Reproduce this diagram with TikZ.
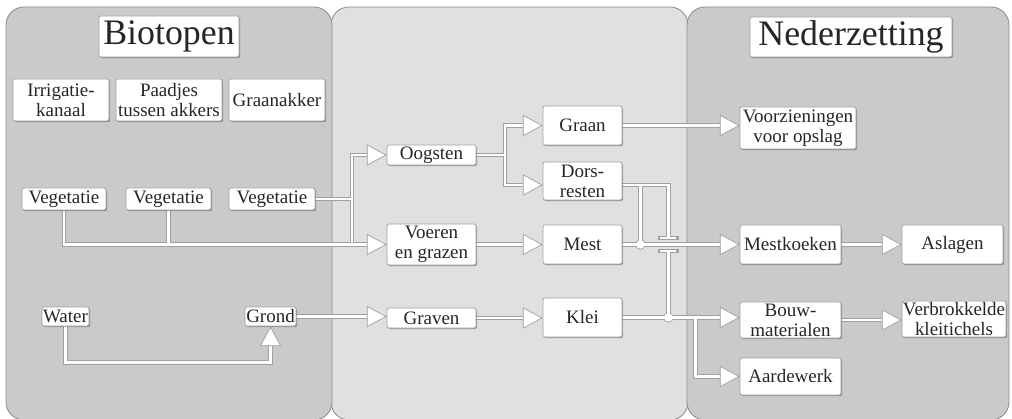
\documentclass[tikz,border=0pt]{standalone}
\usepackage{fontspec}
\setmainfont{Liberation Serif}
\usetikzlibrary{arrows.meta,shadows}
\pgfdeclarelayer{bg}
\pgfdeclarelayer{conn}
\pgfsetlayers{bg,conn,main}
\definecolor{panelA}{HTML}{C9CACC}
\definecolor{panelB}{HTML}{DFE0E1}
\definecolor{pline}{HTML}{8C8C8C}
\definecolor{cline}{HTML}{A0A0A0}
\definecolor{txt}{HTML}{262626}
\newcommand\BX[7][box]{\node[#1, minimum width={(#5-#3)*0.025cm}, minimum height={(#6-#4)*0.025cm}] (#2) at ({(#3+#5)/2},{(#4+#6)/2}) {#7};}
\newcommand\connectors{%
 \draw[cn] (vegC.east) -- (jv);
 \draw[cn,arr] (jv) |- (oog.west);
 \draw[cn] (jv) -- (jv |- voer.west);
 \draw[cn,arr] (vegA.south) |- (voer.west);
 \draw[cn] (vegB.south) -- (vegB.south |- voer.west);
 \draw[cn,arr] (water.south) -- ++(0,36) -| (grond.south);
 \draw[cn,arr] (grond.east) -- (grond.east -| graven.west);
 \draw[cn,arr] (graven.east) -- (graven.east -| klei.west);
 \draw[cn] (oog.east) -- (jo);
 \draw[cn,arr] (jo) |- (graan.west);
 \draw[cn,arr] (jo) |- (dorsin);
 \draw[cn,arr] (voer.east) -- (mest.west);
 \draw[cn,arr] (graan.east) -- (graan.east -| vz.west);
 \draw[cn] (dorsout) -- (dB) -- (tc1);
 \draw[cn] (dA) -- (dM);
 \draw[cn] ([xshift=-0.2cm]tc1) -- ([xshift=0.2cm]tc1);
 \draw[cn] ([xshift=-0.2cm]tc2) -- ([xshift=0.2cm]tc2);
 \draw[cn] (tc2) -- (dK);
 \draw[cn,arr] (mest.east) -- (mk.west);
 \draw[cn,arr] (klei.east) -- (klei.east -| bouw.west);
 \draw[cn,arr] (jk) |- (aard.west);
 \draw[cn,arr] (mk.east) -- (asl.west);
 \draw[cn,arr] (bouw.east) -- (bouw.east -| vk.west);
 \fill[dotc] (dM) circle;
 \fill[dotc] (dK) circle;
}
\begin{document}
\begin{tikzpicture}[x=0.025cm,y=-0.025cm,
  font=\fontsize{13.5}{14.2}\selectfont,
  box/.style={draw=cline, line width=0.5pt, fill=white, rounded corners=1.5pt,
    inner sep=0pt, align=center, text=txt,
    drop shadow={shadow xshift=0.8pt, shadow yshift=-0.8pt, fill=black, opacity=0.3}},
  title/.style={box, font=\fontsize{25.5}{28}\selectfont},
  panel/.style={draw=pline, line width=0.6pt, rounded corners=0.45cm}]
\useasboundingbox (0,0) rectangle (1012,419);
\begin{pgfonlayer}{bg}
\begin{scope}
\clip (0,0) rectangle (1012,419);
\path[panel, fill=panelB] (331,7) rectangle (688,420);
\path[panel, fill=panelA] (6,7) rectangle (332,420);
\path[panel, fill=panelA] (687,7) rectangle (1009,420);
\end{scope}
\end{pgfonlayer}
% nodes
\BX[title]{bio}{99}{16}{239}{57}{Biotopen}
\BX[title]{ned}{750}{17}{952}{57}{Nederzetting}
\BX{irr}{13}{79}{109}{121}{Irrigatie-\\kanaal}
\BX{paad}{116}{79}{222}{121}{Paadjes\\tussen akkers}
\BX{graak}{229}{79}{325}{121}{Graanakker}
\BX{vegA}{22}{188}{106}{210}{Vegetatie}
\BX{vegB}{126}{188}{211}{210}{Vegetatie}
\BX{vegC}{229}{188}{315}{210}{Vegetatie}
\BX{water}{42}{307}{89}{326}{Water}
\BX{grond}{245}{307}{296}{326}{Grond}
\BX{oog}{387}{145}{476}{165}{Oogsten}
\BX{voer}{387}{224}{476}{265}{Voeren\\en grazen}
\BX{graven}{387}{308}{476}{328}{Graven}
\BX{graan}{543}{106}{622}{145}{Graan}
\BX{dors}{543}{162}{622}{200}{Dors-\\resten}
\BX{mest}{543}{225}{622}{264}{Mest}
\BX{klei}{543}{298}{622}{337}{Klei}
\BX{vz}{740}{107}{856}{149}{Voorzieningen\\voor opslag}
\BX{mk}{740}{225}{841}{264}{Mestkoeken}
\BX{asl}{902}{225}{1003}{264}{Aslagen}
\BX{bouw}{740}{302}{841}{338}{Bouw-\\materialen}
\BX{vk}{902}{301}{1006}{337}{Verbrokkelde\\kleitichels}
\BX{aard}{740}{358}{841}{395}{Aardewerk}
% junction coordinates
\coordinate (jv) at (352,199);
\coordinate (jo) at (505,155);
\coordinate (dorsout) at ([yshift=-0.1cm]dors.east);
\coordinate (dorsin) at ([yshift=-0.1cm]dors.west);
\path (mest.east) ++(18,0) coordinate (dM);
\path (klei.east) ++(46,0) coordinate (dK);
\path (klei.east) ++(73,0) coordinate (jk);
\coordinate (dA) at (dM |- dorsout);
\coordinate (dB) at (dK |- dorsout);
\path (dK |- mest.east) ++(0,-6.5) coordinate (tc1);
\path (dK |- mest.east) ++(0,6.5) coordinate (tc2);
\begin{pgfonlayer}{conn}
\begin{scope}[cn/.style={draw=cline, line width=3.1pt, line cap=rect},
  arr/.style={shorten >=14pt, line cap=butt}, dotc/.style={fill=cline, radius=3.7pt}]
\connectors
\end{scope}
\begin{scope}[cn/.style={draw=white, line width=1.8pt},
  arr/.style={-{Triangle[length=14pt, width=15pt, line width=0.5pt, fill=white, color=cline]}},
  dotc/.style={fill=white, radius=3.05pt}]
\connectors
\end{scope}
\end{pgfonlayer}
\end{tikzpicture}
\end{document}
